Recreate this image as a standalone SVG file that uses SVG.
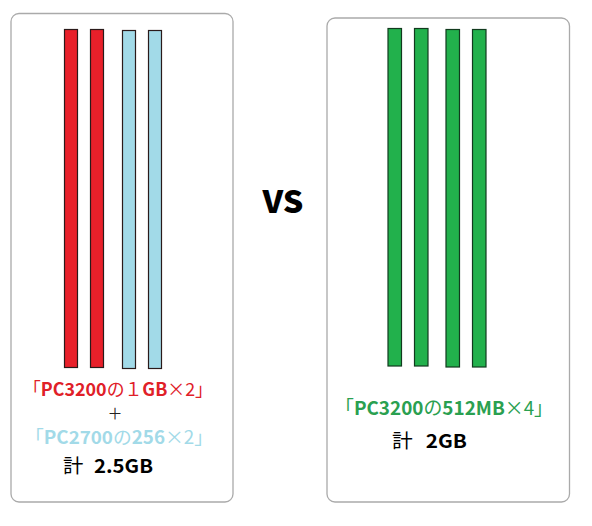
<svg xmlns="http://www.w3.org/2000/svg" width="592" height="526" viewBox="0 0 592 526">
<style>
.box{fill:#fff;stroke:#aaa;stroke-width:1.3}
.bar{stroke:#2a1a1a;stroke-width:1.2}
.red{fill:#e8202a}
.blue{fill:#a2dae8}
.green{fill:#22b14c;stroke:#123a1e}
text{font-family:"Noto Sans CJK JP","Liberation Sans",sans-serif;font-size:18px}
.b{font-weight:bold}
.n{font-weight:normal}
</style>
<rect width="592" height="526" fill="#fff"/>
<g id="left-panel">
<rect class="box" x="11" y="13.5" width="222" height="488.5" rx="8"/>
<rect class="bar red" x="64.5" y="29.5" width="13" height="338"/>
<rect class="bar red" x="90.5" y="29.5" width="13" height="338"/>
<rect class="bar blue" x="122.5" y="30.5" width="13" height="338"/>
<rect class="bar blue" x="148.5" y="30.5" width="13" height="338"/>
<text x="23" y="396" fill="#e02028" textLength="190" lengthAdjust="spacingAndGlyphs"><tspan class="n">「</tspan><tspan class="b">PC3200</tspan><tspan class="n">の１</tspan><tspan class="b">GB</tspan><tspan class="n">×2」</tspan></text>
<text x="115" y="419" fill="#222" text-anchor="middle" class="n" style="font-size:15px">＋</text>
<text x="25" y="444" fill="#a2dae8" textLength="188" lengthAdjust="spacingAndGlyphs"><tspan class="n">「</tspan><tspan class="b">PC2700</tspan><tspan class="n">の</tspan><tspan class="b">256</tspan><tspan class="n">×2」</tspan></text>
<text x="63" y="473" fill="#000" style="font-size:19px" textLength="90" lengthAdjust="spacingAndGlyphs"><tspan class="n">計</tspan><tspan class="b" dx="10">2.5GB</tspan></text>
</g>
<g id="vs">
<text x="283" y="213" text-anchor="middle" class="b" style="font-size:31px;font-weight:900" fill="#000" textLength="41" lengthAdjust="spacingAndGlyphs">VS</text>
</g>
<g id="right-panel">
<rect class="box" x="327" y="18" width="242.5" height="484" rx="8"/>
<rect class="bar green" x="388" y="28.5" width="13.5" height="337.5"/>
<rect class="bar green" x="414.5" y="28.5" width="13.5" height="337.5"/>
<rect class="bar green" x="446" y="29.5" width="13.5" height="337.5"/>
<rect class="bar green" x="472.5" y="29.5" width="13.5" height="337.5"/>
<text x="335" y="415" fill="#2aa050" style="font-size:19px" textLength="218" lengthAdjust="spacingAndGlyphs"><tspan class="n">「</tspan><tspan class="b">PC3200</tspan><tspan class="n">の</tspan><tspan class="b">512MB</tspan><tspan class="n">×4」</tspan></text>
<text x="392" y="448" fill="#000" style="font-size:19px" textLength="75" lengthAdjust="spacingAndGlyphs"><tspan class="n">計</tspan><tspan class="b" dx="12">2GB</tspan></text>
</g>
<g id="connectors"></g>
</svg>
